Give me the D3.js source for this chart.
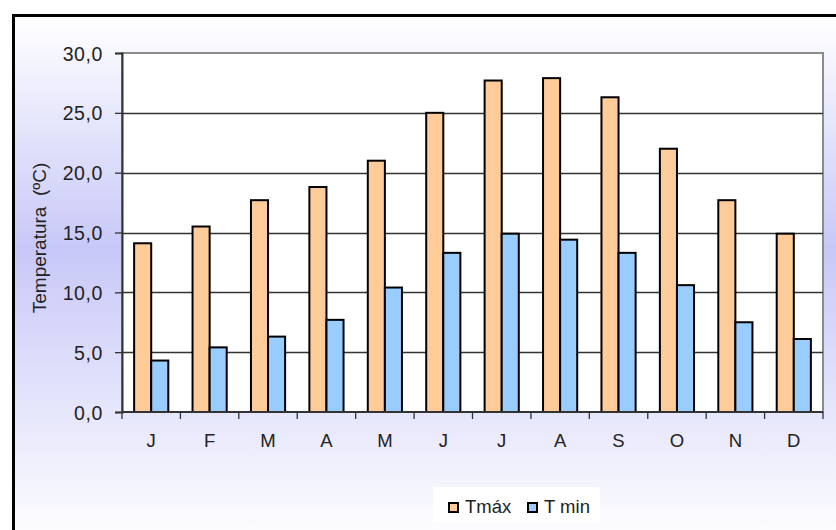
<!DOCTYPE html>
<html>
<head>
<meta charset="utf-8">
<script src="https://cdn.jsdelivr.net/npm/d3@7"></script>
<style>
  html, body { margin: 0; padding: 0; background: #ffffff; }
  svg { display: block; }
  text { font-family: "Liberation Sans", Arial, sans-serif; fill: #222222; }
</style>
</head>
<body>
<script>
// Monthly mean temperatures (°C)
const months = ["J", "F", "M", "A", "M", "J", "J", "A", "S", "O", "N", "D"];
const tmax = [14.1, 15.5, 17.7, 18.8, 21.0, 25.0, 27.7, 27.9, 26.3, 22.0, 17.7, 14.9];
const tmin = [4.3, 5.4, 6.3, 7.7, 10.4, 13.3, 14.9, 14.4, 13.3, 10.6, 7.5, 6.1];
const yTicks = [0, 5, 10, 15, 20, 25, 30];
const seriesNames = ["Tmáx", "T min"];
const seriesColors = ["#ffcc99", "#99ccff"];

const W = 836, H = 530;
const plot = { left: 122, top: 53, right: 823, bottom: 412 };
const fontSize = 18.5;

const svg = d3.select("body").append("svg")
  .attr("width", W).attr("height", H);

// Chart area background: vertical white → lavender → white gradient
const defs = svg.append("defs");
const grad = defs.append("linearGradient")
  .attr("id", "bg").attr("x1", 0).attr("y1", 0).attr("x2", 0).attr("y2", 1);
grad.append("stop").attr("offset", "0%").attr("stop-color", "#ffffff");
grad.append("stop").attr("offset", "44%").attr("stop-color", "#c8c8f8");
grad.append("stop").attr("offset", "100%").attr("stop-color", "#ffffff");

svg.append("rect")
  .attr("x", 13.5).attr("y", 15.5).attr("width", W).attr("height", H)
  .attr("fill", "url(#bg)")
  .attr("stroke", "#000").attr("stroke-width", 3);

// Plot area
svg.append("rect")
  .attr("x", plot.left).attr("y", plot.top)
  .attr("width", plot.right - plot.left).attr("height", plot.bottom - plot.top)
  .attr("fill", "#ffffff")
  .attr("stroke", "#8c8c8c").attr("stroke-width", 2);

const x = d3.scaleBand()
  .domain(d3.range(months.length))
  .range([plot.left, plot.right])
  .paddingInner(0).paddingOuter(0);

const y = d3.scaleLinear().domain([0, 30]).range([plot.bottom, plot.top]);

const inner = d3.scaleBand()
  .domain([0, 1])
  .range([0, x.bandwidth()])
  .paddingInner(0).paddingOuter(0.71);

// Horizontal gridlines
svg.append("g")
  .selectAll("line")
  .data(yTicks.filter(t => t > 0 && t < 30))
  .join("line")
  .attr("x1", plot.left).attr("x2", plot.right)
  .attr("y1", d => Math.round(y(d)) + 0.5).attr("y2", d => Math.round(y(d)) + 0.5)
  .attr("stroke", "#333").attr("stroke-width", 1.3);

// Bars
const series = [tmax, tmin];
series.forEach((vals, si) => {
  svg.append("g")
    .selectAll("rect")
    .data(vals)
    .join("rect")
    .attr("x", (d, i) => x(i) + inner(si))
    .attr("y", d => y(d))
    .attr("width", inner.bandwidth())
    .attr("height", d => y(0) - y(d))
    .attr("fill", seriesColors[si])
    .attr("stroke", "#000")
    .attr("stroke-width", 2);
});

// Y axis
const yAxis = svg.append("g")
  .attr("transform", `translate(${plot.left},0)`)
  .call(d3.axisLeft(y).tickValues(yTicks).tickSize(7).tickPadding(12)
    .tickFormat(d => d3.format(".1f")(d).replace(".", ",")));
yAxis.select(".domain").attr("stroke", "#333").attr("stroke-width", 2);
yAxis.selectAll(".tick line").attr("stroke", "#333").attr("stroke-width", 1.3);
yAxis.selectAll(".tick text")
  .attr("font-size", 19.5).attr("fill", "#222222")
  .attr("dy", "0.36em")
  .attr("letter-spacing", "0.6px")
  .style("font-family", "'Liberation Sans', Arial, sans-serif");

// X axis: ticks at category boundaries, labels centred in each band
const xAxisG = svg.append("g")
  .attr("transform", `translate(0,${plot.bottom})`);
xAxisG.append("line")
  .attr("x1", plot.left).attr("x2", plot.right)
  .attr("stroke", "#333").attr("stroke-width", 2);
xAxisG.selectAll("line.tk")
  .data(d3.range(months.length + 1))
  .join("line").attr("class", "tk")
  .attr("x1", i => i < months.length ? x(i) : plot.right)
  .attr("x2", i => i < months.length ? x(i) : plot.right)
  .attr("y1", 0).attr("y2", 7)
  .attr("stroke", "#333").attr("stroke-width", 1.3);
xAxisG.selectAll("text")
  .data(months)
  .join("text")
  .attr("x", (d, i) => x(i) + x.bandwidth() / 2)
  .attr("y", 35)
  .attr("text-anchor", "middle")
  .attr("font-size", fontSize)
  .text(d => d);

// Y axis title
svg.append("text")
  .attr("transform", "translate(46,238) rotate(-90)")
  .attr("text-anchor", "middle")
  .attr("font-size", 19)
  .attr("xml:space", "preserve")
  .text("Temperatura  (ºC)");

// Legend
const legend = svg.append("g");
legend.append("rect")
  .attr("x", 433).attr("y", 487).attr("width", 167).attr("height", 36)
  .attr("fill", "#ffffff");
const legendX = [449, 528];
seriesNames.forEach((name, i) => {
  legend.append("rect")
    .attr("x", legendX[i]).attr("y", 503)
    .attr("width", 9).attr("height", 9)
    .attr("fill", seriesColors[i])
    .attr("stroke", "#000").attr("stroke-width", 2);
  legend.append("text")
    .attr("x", legendX[i] + 16).attr("y", 513)
    .attr("font-size", fontSize)
    .text(name);
});
</script>
</body>
</html>
